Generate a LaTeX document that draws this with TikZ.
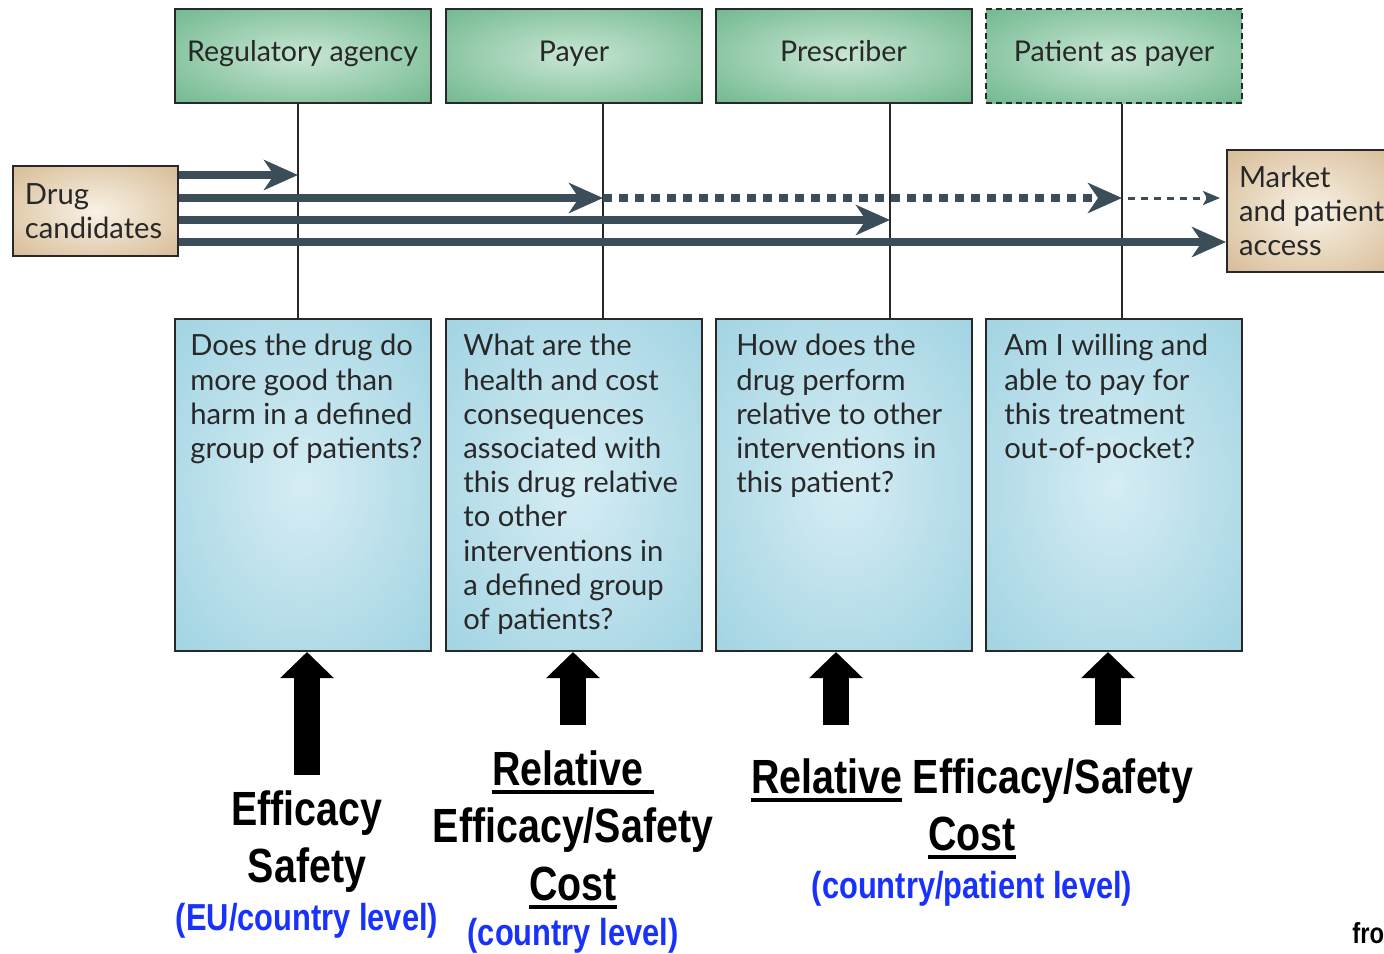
\documentclass[tikz,border=0pt]{standalone}
\usepackage{fontspec}
\setmainfont{Lato}
\newfontfamily\labelfont[FakeStretch=0.82]{Liberation Sans}
\usepackage{tikz}
\usetikzlibrary{arrows.meta}

\definecolor{greenedge}{RGB}{78,166,115}
\definecolor{greenmid}{RGB}{200,230,211}
\definecolor{blueedge}{RGB}{140,201,219}
\definecolor{bluemid}{RGB}{214,237,244}
\definecolor{tanedge}{RGB}{201,166,118}
\definecolor{tanmid}{RGB}{249,242,230}
\definecolor{flowgray}{RGB}{58,77,88}
\definecolor{levelblue}{RGB}{25,50,250}
\definecolor{inkgray}{RGB}{40,40,40}

\pgfdeclareradialshading{greenglow}{\pgfpoint{0bp}{0bp}}{color(0bp)=(greenmid); color(50bp)=(greenedge)}
\pgfdeclareradialshading{blueglow}{\pgfpoint{0bp}{0bp}}{color(0bp)=(bluemid); color(50bp)=(blueedge)}
\pgfdeclareradialshading{tanglow}{\pgfpoint{0bp}{0bp}}{color(0bp)=(tanmid); color(50bp)=(tanedge)}

\newcommand{\ulword}[1]{\setbox0=\hbox{#1}\rlap{\rule[-4.5pt]{\wd0}{2pt}}\box0\relax}

\tikzstyle{role} = [rectangle, draw=inkgray, line width=1pt, shade, shading=greenglow, minimum width=128pt, minimum height=47pt, text height=0.75em, text depth=0.22em, text=inkgray, font=\fontsize{14.3}{17}\selectfont]
\tikzstyle{question} = [rectangle, draw=inkgray, line width=1pt, shade, shading=blueglow, minimum width=128pt, minimum height=166pt]
\tikzstyle{qtext} = [anchor=north west, align=left, inner sep=0pt, text=inkgray, font=\fontsize{14.6}{17.1}\selectfont]
\tikzstyle{endbox} = [rectangle, draw=inkgray, line width=1pt, shade, shading=tanglow, align=left, inner xsep=6pt, text=inkgray, font=\fontsize{14.6}{17.1}\selectfont]
\tikzstyle{flow} = [line width=4pt, draw=flowgray, -{Stealth[length=17pt,width=15pt,inset=5pt]}]
\tikzstyle{flowdot} = [flow, dash pattern=on 4.5pt off 3.5pt]
\tikzstyle{flowthin} = [line width=1.5pt, draw=flowgray, dash pattern=on 3.5pt off 3pt, -{Stealth[length=8.5pt,width=7pt,inset=2pt]}]
\tikzstyle{vline} = [line width=1pt, draw=inkgray]
\tikzstyle{push} = [line width=13pt, draw=black, -{Triangle[length=13pt,width=26pt]}]
\tikzstyle{criterion} = [anchor=base, inner sep=0pt, font=\labelfont\bfseries\fontsize{24}{28}\selectfont]
\tikzstyle{level} = [anchor=base, inner sep=0pt, text=levelblue, font=\labelfont\bfseries\fontsize{18.8}{22}\selectfont]

\begin{document}
\begin{tikzpicture}[x=0.5pt, y=-0.5pt]
\useasboundingbox (0,0) rectangle (1384,953);

% decision makers
\node (reg) [role] at (302.5,56) {Regulatory agency};
\node (pay) [role] at (574,56) {Payer};
\node (pres) [role] at (843.5,56) {Prescriber};
\node (pat) [role, dash pattern=on 3pt off 2pt] at (1114,56) {Patient as payer};

% questions
\node (q1) [question] at (302.5,485) {};
\node (q2) [question] at (574,485) {};
\node (q3) [question] at (843.5,485) {};
\node (q4) [question] at (1114,485) {};
\node (qt1) [qtext] at (190,334) {Does the drug do\\more good than\\harm in a defined\\group of patients?};
\node (qt2) [qtext] at (463,334) {What are the\\health and cost\\consequences\\associated with\\this drug relative\\to other\\interventions in\\a defined group\\of patients?};
\node (qt3) [qtext] at (736,334) {How does the\\drug perform\\relative to other\\interventions in\\this patient?};
\node (qt4) [qtext] at (1004,334) {Am I willing and\\able to pay for\\this treatment\\out-of-pocket?};

% start and end
\node (drug) [endbox, minimum width=82.5pt, minimum height=45pt, text width=70.5pt] at (95.5,211) {Drug\\candidates};
\node (market) [endbox, anchor=west, minimum height=61pt] at (1226,211) {Market\\and patient\\access};

\coordinate (l1) at (298,0);
\coordinate (l2) at (603,0);
\coordinate (l3) at (890,0);
\coordinate (l4) at (1122,0);
\coordinate (r1) at (0,175);
\coordinate (r2) at (0,198);
\coordinate (r3) at (0,220);
\coordinate (r4) at (0,242);
\coordinate (d4) at (1128,198);

\draw [vline] (reg.south -| l1) -- (q1.north -| l1);
\draw [vline] (pay.south -| l2) -- (q2.north -| l2);
\draw [vline] (pres.south -| l3) -- (q3.north -| l3);
\draw [vline] (pat.south -| l4) -- (q4.north -| l4);

\draw [flow] (drug.east |- r1) -- (l1 |- r1);
\draw [flow] (drug.east |- r2) -- (l2 |- r2);
\draw [flowdot] (l2 |- r2) -- (l4 |- r2);
\draw [flowthin] (d4) -- ([xshift=-3pt]market.west |- r2);
\draw [flow] (drug.east |- r3) -- (l3 |- r3);
\draw [flow] (drug.east |- r4) -- (market.west |- r4);

% evidence
\coordinate (b1) at (307,775);
\coordinate (b2) at (573,725);
\coordinate (b3) at (836,725);
\coordinate (b4) at (1108,725);
\draw [push] (b1) -- (b1 |- q1.south);
\draw [push] (b2) -- (b2 |- q2.south);
\draw [push] (b3) -- (b3 |- q3.south);
\draw [push] (b4) -- (b4 |- q4.south);

\node (eff1) [criterion] at (307,825) {Efficacy};
\node (saf1) [criterion] at (307,882) {Safety};
\node (lev1) [level] at (307,930) {(EU/country level)};

\node (rel2) [criterion] at (573,785) {\ulword{Relative\ }};
\node (eff2) [criterion] at (573,842) {Efficacy/Safety};
\node (cost2) [criterion] at (573,900) {\ulword{Cost}};
\node (lev2) [level] at (573,945) {(country level)};

\node (eff3) [criterion] at (972,793) {\ulword{Relative} Efficacy/Safety};
\node (cost3) [criterion] at (972,850) {\ulword{Cost}};
\node (lev3) [level] at (972,898) {(country/patient level)};

\node (src) [anchor=base west, inner sep=0pt, font=\labelfont\bfseries\fontsize{14.5}{17}\selectfont] at (1352,943) {fro};

\end{tikzpicture}
\end{document}
